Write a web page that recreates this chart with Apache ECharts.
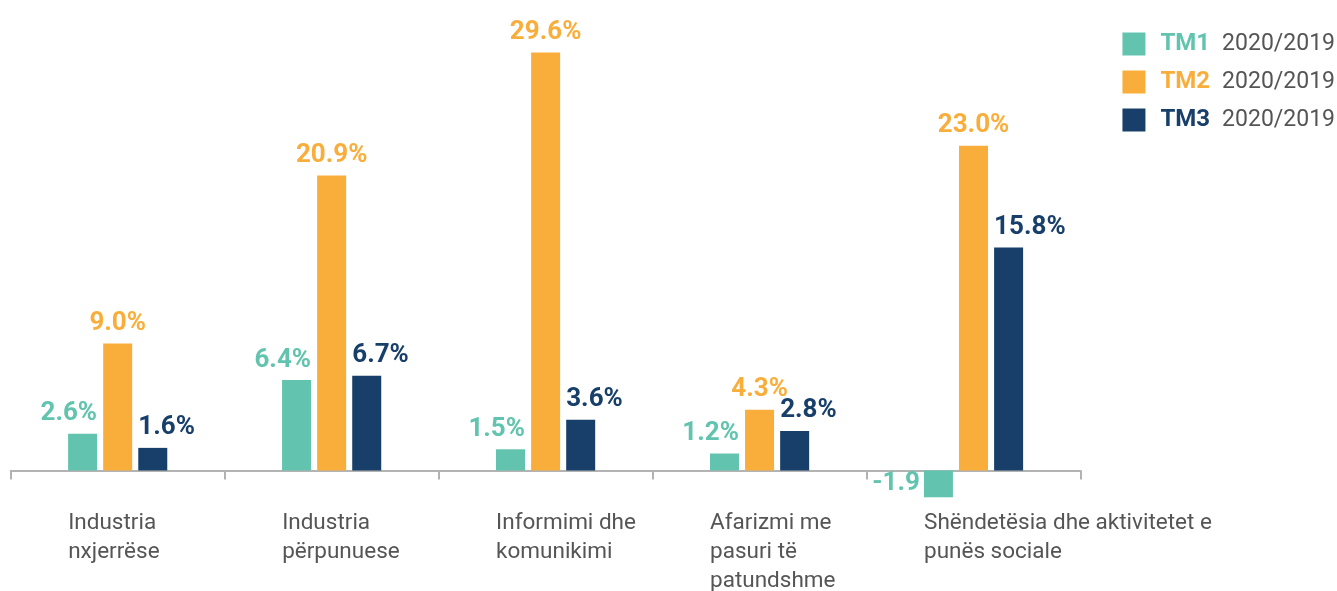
<!DOCTYPE html>
<html>
<head>
<meta charset="utf-8">
<script src="https://cdn.jsdelivr.net/npm/echarts@6/dist/echarts.min.js"></script>
<style>
html,body{margin:0;padding:0;background:#fff;}
#c{width:1337px;height:591px;}
</style>
</head>
<body>
<div id="c"></div>
<script>
const categories = ['Industria\nnxjerrëse', 'Industria\npërpunuese', 'Informimi dhe\nkomunikimi', 'Afarizmi me\npasuri të\npatundshme', 'Shëndetësia dhe aktivitetet e\npunës sociale'];
const seriesNames = ['TM1', 'TM2', 'TM3'];
const periodLabel = '2020/2019';
const tm1 = [2.6, 6.4, 1.5, 1.2, -1.9];
const tm2 = [9.0, 20.9, 29.6, 4.3, 23.0];
const tm3 = [1.6, 6.7, 3.6, 2.8, 15.8];

const colors = ['#62C4AE', '#F9AE3B', '#173F6A'];
const FONT = 'Roboto';

const chart = echarts.init(document.getElementById('c'), null, {renderer: 'canvas'});

function fmt(p) {
  return p.value < 0 ? p.value.toFixed(1) : p.value.toFixed(1) + '%';
}
function labelFor(i) {
  const base = {
    show: true,
    fontFamily: FONT,
    fontWeight: 'bold',
    fontSize: 26,
    color: colors[i],
    formatter: fmt
  };
  if (i === 0) return Object.assign(base, {position: ['100%', 0], align: 'right', verticalAlign: 'bottom', offset: [0, -7]});
  if (i === 1) return Object.assign(base, {position: 'top', distance: 7});
  return Object.assign(base, {position: [0, 0], align: 'left', verticalAlign: 'bottom', offset: [0, -7]});
}
function dataFor(arr, i) {
  return arr.map(v => v < 0 ? {value: v, label: {position: 'left', distance: 4, align: 'right', verticalAlign: 'middle', offset: [0, 0]}} : v);
}
const seriesData = [tm1, tm2, tm3];

chart.setOption({
  animation: false,
  backgroundColor: '#ffffff',
  grid: {left: 10.7, right: 256.5, top: 46.9, bottom: 92.3, containLabel: false, outerBoundsMode: 'none'},
  legend: {
    orient: 'vertical',
    right: 2,
    top: 32,
    padding: 0,
    itemWidth: 23,
    itemHeight: 23,
    itemGap: 14,
    icon: 'rect',
    data: seriesNames,
    formatter: function (name) {
      const k = seriesNames.indexOf(name);
      return '{s' + k + '|' + name + '}{p|' + periodLabel + '}';
    },
    textStyle: {
      fontFamily: FONT,
      rich: {
        s0: {color: colors[0], fontWeight: 'bold', fontSize: 24, fontFamily: FONT, padding: [0, 0, 0, 10]},
        s1: {color: colors[1], fontWeight: 'bold', fontSize: 24, fontFamily: FONT, padding: [0, 0, 0, 10]},
        s2: {color: colors[2], fontWeight: 'bold', fontSize: 24, fontFamily: FONT, padding: [0, 0, 0, 10]},
        p: {color: '#555555', fontSize: 23, fontFamily: FONT, padding: [0, 0, 0, 12]}
      }
    }
  },
  xAxis: {
    type: 'category',
    data: categories,
    axisLine: {show: true, onZero: true, lineStyle: {color: '#b3b3b3', width: 2}},
    axisTick: {show: true, length: 9, lineStyle: {color: '#b3b3b3', width: 2}},
    axisLabel: {
      interval: 0,
      margin: 10,
      align: 'center',
      verticalAlign: 'top',
      width: 99,
      overflow: 'none',
      formatter: v => '{a|' + v + '}',
      rich: {
        a: {align: 'left', fontFamily: FONT, fontSize: 22.5, lineHeight: 29, color: '#555555'}
      }
    }
  },
  yAxis: {
    type: 'value',
    min: -2,
    max: 30,
    show: false,
    splitLine: {show: false}
  },
  series: seriesNames.map((n, i) => ({
    name: n,
    type: 'bar',
    data: dataFor(seriesData[i], i),
    barWidth: 29,
    barGap: '21%',
    itemStyle: {color: colors[i]},
    label: labelFor(i)
  }))
});
</script>
</body>
</html>
